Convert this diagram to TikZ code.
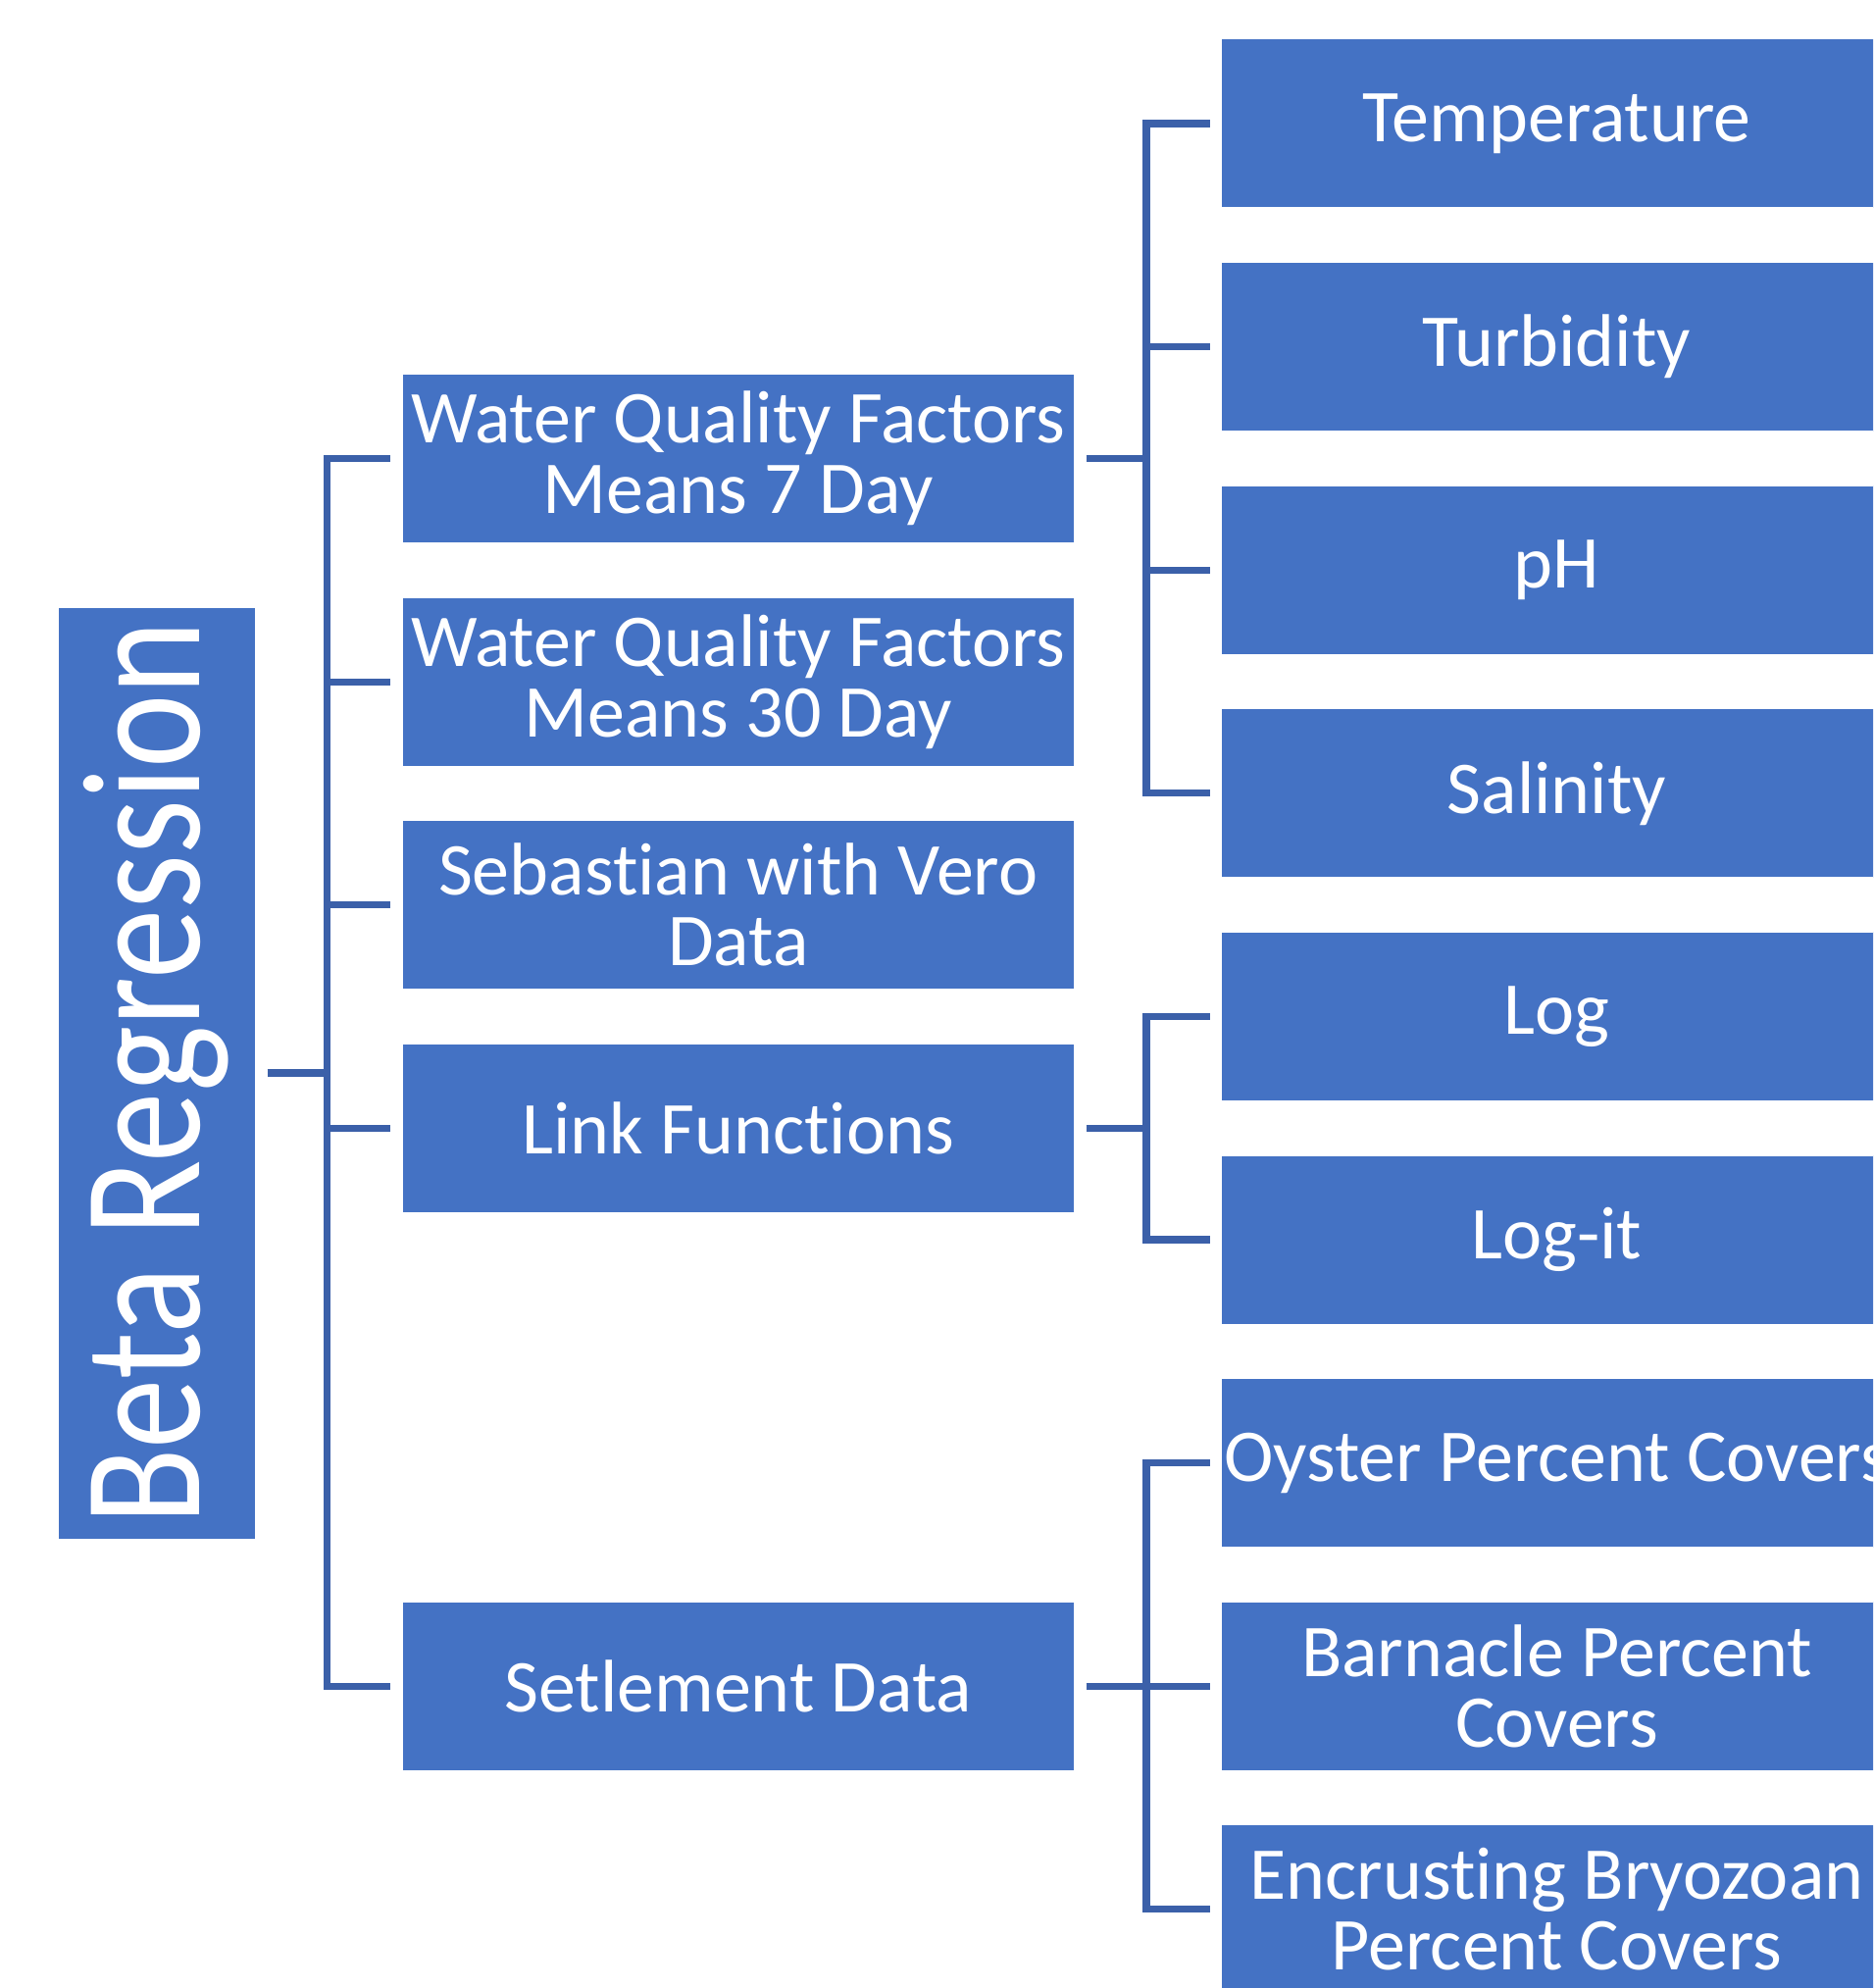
\documentclass[tikz,border=0pt]{standalone}
\usepackage{fontspec}
\setmainfont{Carlito}[RawFeature={-liga;-clig;-dlig}]
\definecolor{boxblue}{HTML}{4472C4}
\definecolor{lineblue}{HTML}{3B60A9}
\begin{document}
\begin{tikzpicture}[x=0.5pt,y=-0.5pt,
  box/.style={fill=boxblue, draw=white, line width=0.5pt, text=white, inner sep=0pt,
    minimum width=342.5pt, minimum height=86pt, align=center,
    font=\fontsize{38}{36}\selectfont},
  bigbox/.style={fill=boxblue, draw=white, line width=0.5pt, text=white, inner sep=0pt,
    rotate=90, minimum width=475pt, minimum height=100.5pt,
    font=\fontsize{86}{90}\selectfont},
  conn/.style={draw=lineblue, line width=3.6pt}]
\useasboundingbox (0,0) rectangle (1910,2027);
\fill[white] (0,0) rectangle (1910,2027);
\clip (0,0) rectangle (1910,2027);

% root
\node[bigbox] (beta) at (159.5,1094) {\scalebox{0.83}[1]{Beta Regression}};

% middle column
\node[box] (wq7)  at (752.7,467.5)  {Water Quality Factors\\Means 7 Day};
\node[box] (wq30) at (752.7,695.1)  {Water Quality Factors\\Means 30 Day};
\node[box] (seb)  at (752.7,922.7)  {Sebastian with Vero\\Data};
\node[box] (link) at (752.7,1150.3) {Link Functions};
\node[box] (set)  at (752.7,1719.2) {Setlement Data};

% right column
\node[box] (temp) at (1587.5,126)    {Temperature};
\node[box] (turb) at (1587.5,353.6)  {Turbidity};
\node[box] (ph)   at (1587.5,581.2)  {pH};
\node[box] (sal)  at (1587.5,808.8)  {Salinity};
\node[box] (log)  at (1587.5,1036.4) {Log};
\node[box] (logit) at (1587.5,1264)  {Log-it};
\node[box] (oys)  at (1587.5,1491.6) {Oyster Percent Covers};
\node[box] (barn) at (1587.5,1719.2) {Barnacle Percent\\Covers};
\node[box] (enc)  at (1587.5,1946.8) {Encrusting Bryozoan\\Percent Covers};

% buses
\coordinate (bus1) at (333.6,1094);
\coordinate (bus2) at (1169,467.5);
\coordinate (bus3) at (1169,1150.3);
\coordinate (bus4) at (1169,1719.2);

\draw[conn] ([xshift=6pt]beta.south) -- (bus1);
\foreach \c in {wq7,wq30,seb,link,set}
  \draw[conn] (bus1) |- ([xshift=-6pt]\c.west);

\draw[conn] ([xshift=6pt]wq7.east) -- (bus2);
\foreach \c in {temp,turb,ph,sal}
  \draw[conn] (bus2) |- ([xshift=-5.5pt]\c.west);

\draw[conn] ([xshift=6pt]link.east) -- (bus3);
\foreach \c in {log,logit}
  \draw[conn] (bus3) |- ([xshift=-5.5pt]\c.west);

\draw[conn] ([xshift=6pt]set.east) -- (bus4);
\foreach \c in {oys,barn,enc}
  \draw[conn] (bus4) |- ([xshift=-5.5pt]\c.west);
\end{tikzpicture}
\end{document}
